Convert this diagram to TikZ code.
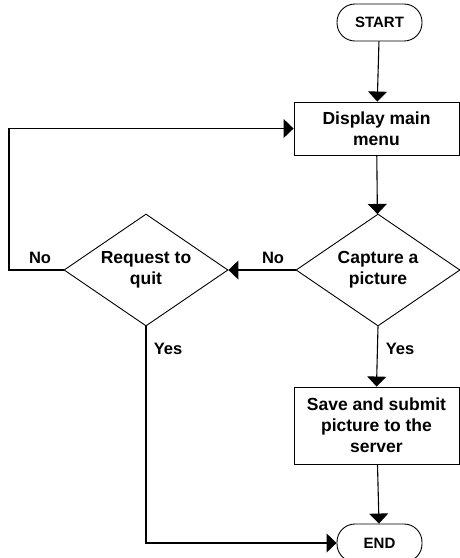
\documentclass[tikz,border=0pt]{standalone}
\usepackage{fontspec}
\setmainfont{Liberation Sans}
\usetikzlibrary{arrows.meta, shapes.geometric}

\begin{document}
\begin{tikzpicture}[x=1pt, y=-1pt,
        box/.style={draw, line width=0.9pt, align=center, inner sep=0pt,
            font=\fontsize{17.5}{21}\selectfont\bfseries},
        terminal/.style={box, rounded corners=18pt, minimum width=85pt,
            minimum height=37pt, font=\fontsize{15}{18}\selectfont\bfseries},
        process/.style={box, minimum width=165pt},
        decision/.style={box, diamond, aspect=1.46, minimum width=164pt, minimum height=112pt},
        lbl/.style={inner sep=0pt, font=\fontsize{16.5}{20}\selectfont\bfseries},
        flow/.style={line width=1.1pt, -{Triangle[width=19pt, length=10pt]}}]
        \useasboundingbox (0, 0) rectangle (460, 558);

        \node[terminal] (start) at (379.5, 22.5) {START};
        \node[process, minimum height=53pt] (menu) at (376.5, 128.5) {Display main\\menu};
        \node[decision] (capture) at (378, 270) {Capture a\\picture};
        \node[decision] (quit) at (146, 270) {Request to\\quit};
        \node[process, minimum height=77pt] (save) at (376.5, 425.5) {Save and submit\\picture to the\\server};
        \node[terminal, minimum height=38pt] (end) at (379.5, 543) {END};
        \coordinate (loop) at (9, 200);

        \draw[flow] (start) -- (menu);
        \draw[flow] (menu) -- (capture);
        \draw[flow] (capture.west) -- (quit.east);
        \draw[flow] (quit.west) -| (loop) |- (menu.west);
        \draw[flow] (capture.south) -- (save.north);
        \draw[flow] (save) -- (end);
        \draw[flow] (quit.south) |- (end.west);

        \node[lbl] (no1) at (40, 258) {No};
        \node[lbl] (no2) at (273, 258) {No};
        \node[lbl] (yes1) at (168, 349) {Yes};
        \node[lbl] (yes2) at (400, 349) {Yes};
    \end{tikzpicture}
\end{document}
